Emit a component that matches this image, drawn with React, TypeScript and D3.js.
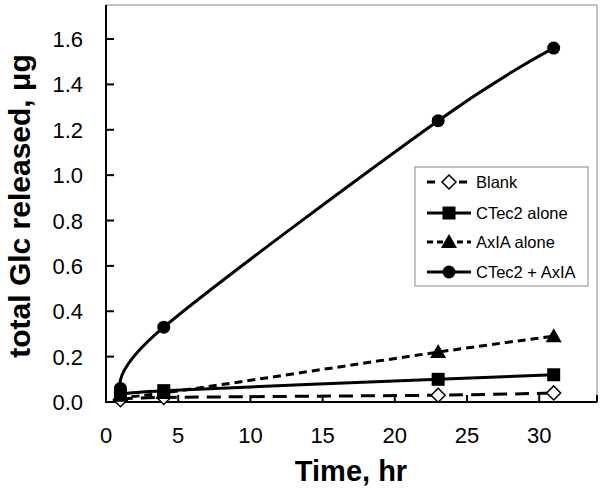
import React from "react";
import * as d3 from "d3";

const times = [1, 4, 23, 31];
const blank = [0.01, 0.02, 0.03, 0.04];
const ctec2 = [0.03, 0.05, 0.1, 0.12];
const axla = [0.03, 0.04, 0.22, 0.29];
const combo = [0.06, 0.33, 1.24, 1.56];
const seriesNames = ["Blank", "CTec2 alone", "AxIA alone", "CTec2 + AxIA"];
const xTicks = [0, 5, 10, 15, 20, 25, 30];
const yTicks = [0, 0.2, 0.4, 0.6, 0.8, 1.0, 1.2, 1.4, 1.6];

const W = 600;
const H = 488;
const L = 106, R = 597, T = 5, B = 402;
const FONT = "'Liberation Sans', Arial, sans-serif";

type Marker = "diamond" | "square" | "triangle" | "circle";

function MarkerShape({ kind, x, y }: { kind: Marker; x: number; y: number }) {
  if (kind === "circle") return <circle cx={x} cy={y} r={6.5} fill="#000" />;
  if (kind === "square") return <rect x={x - 6.5} y={y - 6.5} width={13} height={13} fill="#000" />;
  if (kind === "triangle") {
    const p = `${x},${y - 8} ${x + 8},${y + 6} ${x - 8},${y + 6}`;
    return <polygon points={p} fill="#000" />;
  }
  const p = `${x},${y - 7} ${x + 7},${y} ${x},${y + 7} ${x - 7},${y}`;
  return <polygon points={p} fill="#fff" stroke="#000" strokeWidth={1.5} />;
}

export default function App() {
  const x = d3.scaleLinear().domain([0, 34]).range([L, R]);
  const y = d3.scaleLinear().domain([0, 1.75]).range([B, T]);
  const line = d3
    .line<[number, number]>()
    .x((d) => x(d[0]))
    .y((d) => y(d[1]))
    .curve(d3.curveCardinal.tension(0));

  const series: { name: string; vals: number[]; marker: Marker; dash: string }[] = [
    { name: seriesNames[0], vals: blank, marker: "diamond", dash: "14,8" },
    { name: seriesNames[1], vals: ctec2, marker: "square", dash: "" },
    { name: seriesNames[2], vals: axla, marker: "triangle", dash: "8,5" },
    { name: seriesNames[3], vals: combo, marker: "circle", dash: "" },
  ];

  const legendRows = [182, 213, 242, 272];

  return (
    <svg width={W} height={H} style={{ position: "absolute", left: 0, top: 0, background: "#fff" }}>
      <rect x={0} y={0} width={W} height={H} fill="#fff" />
      {/* plot area border */}
      <rect x={L} y={T} width={R - L} height={B - T} fill="none" stroke="#888" strokeWidth={1} />
      {/* axes */}
      <line x1={L} y1={T} x2={L} y2={B + 1} stroke="#000" strokeWidth={2} />
      <line x1={L - 1} y1={B} x2={R} y2={B} stroke="#000" strokeWidth={2} />
      {yTicks.map((t) => (
        <g key={"y" + t}>
          {t > 0 && <line x1={L} x2={L + 8} y1={y(t)} y2={y(t)} stroke="#000" strokeWidth={2} />}
          <text x={83} y={y(t) + 8} textAnchor="end" fontFamily={FONT} fontSize={22} fill="#000">
            {t.toFixed(1)}
          </text>
        </g>
      ))}
      {xTicks.map((t) => (
        <g key={"x" + t}>
          {t > 0 && <line x1={x(t)} x2={x(t)} y1={B} y2={B - 7} stroke="#000" strokeWidth={2} />}
          <text x={x(t)} y={443} textAnchor="middle" fontFamily={FONT} fontSize={22} fill="#000">
            {t}
          </text>
        </g>
      ))}
      <line x1={R} x2={R} y1={B} y2={B - 7} stroke="#000" strokeWidth={2} />
      {/* titles */}
      <text x={351} y={481} textAnchor="middle" fontFamily={FONT} fontSize={29} fontWeight="bold" fill="#000">
        Time, hr
      </text>
      <text
        transform={`translate(30,206) rotate(-90)`}
        textAnchor="middle"
        fontFamily={FONT}
        fontSize={30}
        fontWeight="bold"
        fill="#000"
      >
        total Glc released, μg
      </text>
      {/* series */}
      {series.map((s) => {
        const pts = times.map((t, i) => [t, s.vals[i]] as [number, number]);
        return (
          <g key={s.name}>
            <path d={line(pts) || ""} fill="none" stroke="#000" strokeWidth={3} strokeDasharray={s.dash || undefined} />
          </g>
        );
      })}
      {series.map((s) => (
        <g key={s.name + "m"}>
          {times.map((t, i) => (
            <MarkerShape key={i} kind={s.marker} x={x(t)} y={y(s.vals[i])} />
          ))}
        </g>
      ))}
      {/* legend */}
      <rect x={415} y={167} width={173} height={119} fill="#fff" stroke="#888" strokeWidth={1} />
      {series.map((s, i) => (
        <g key={s.name + "l"}>
          <line
            x1={427}
            x2={471}
            y1={legendRows[i]}
            y2={legendRows[i]}
            stroke="#000"
            strokeWidth={3}
            strokeDasharray={s.dash ? (s.marker === "diamond" ? "8,8" : "6,4") : undefined}
          />
          <MarkerShape kind={s.marker} x={449} y={legendRows[i]} />
          <text x={476} y={legendRows[i] + 6} fontFamily={FONT} fontSize={16.5} fill="#000">
            {s.name}
          </text>
        </g>
      ))}
    </svg>
  );
}
